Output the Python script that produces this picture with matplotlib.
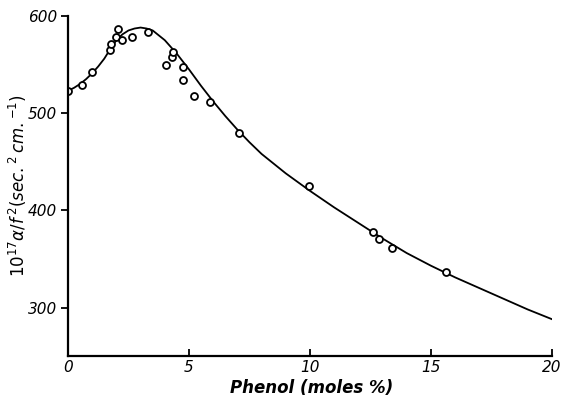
import matplotlib.pyplot as plt

# measured points (phenol mole %, 10^17 alpha/f^2)
phenol = [0.0, 0.59, 1.0, 1.74, 1.79, 2.0, 2.08, 2.24, 2.63, 3.29, 4.06, 4.28, 4.35,
          4.76, 4.76, 5.22, 5.87, 7.08, 9.96, 12.6, 12.86, 13.4, 15.62]
absorption = [523, 529, 542, 565, 571, 578, 587, 575, 578, 583, 549, 558, 563,
              547, 534, 518, 511, 480, 425, 378, 370, 361, 337]

# smooth curve
curve_x = [0, 0.25, 0.5, 0.75, 1, 1.25, 1.5, 1.75, 2, 2.25, 2.5, 2.75, 3, 3.25, 3.5,
           3.75, 4, 4.5, 5, 5.5, 6, 6.5, 7, 7.5, 8, 9, 10, 11, 12, 13, 14, 15, 16, 17,
           18, 19, 20]
curve_y = [523, 526, 530, 535, 541, 548, 556, 566, 575, 581, 585, 587, 588, 587, 585,
           580, 575, 561, 545, 528, 512, 497, 483, 470, 458, 438, 420, 403, 387, 371,
           356, 343, 331, 320, 309, 298, 288]

plt.rcParams['mathtext.fontset'] = 'dejavusans'

fig = plt.figure(figsize=(5.62, 3.97), dpi=100)
ax = fig.add_axes([0.121, 0.103, 0.861, 0.857])

ax.plot(curve_x, curve_y, color='black', linewidth=1.3)
ax.plot(phenol, absorption, 'o', markerfacecolor='white', markeredgecolor='black',
        markersize=5, markeredgewidth=1.3)

ax.set_xlim(0, 20)
ax.set_ylim(250, 600)
ax.set_xticks([0, 5, 10, 15, 20])
ax.set_yticks([300, 400, 500, 600])

ax.spines['top'].set_visible(False)
ax.spines['right'].set_visible(False)
ax.spines['left'].set_linewidth(1.6)
ax.spines['bottom'].set_linewidth(1.6)
ax.tick_params(axis='x', direction='in', length=5, width=1.3, labelsize=11, pad=3)
ax.tick_params(axis='y', direction='out', length=5, width=1.3, labelsize=11, pad=3)
for lab in ax.get_xticklabels() + ax.get_yticklabels():
    lab.set_fontstyle('italic')

ax.set_xlabel('Phenol (moles %)', fontsize=12, fontstyle='italic', fontweight='bold')
ax.xaxis.set_label_coords(0.504, -0.066)
ax.set_ylabel(r'$10^{17}\alpha/f^{\,2}(sec.^{2}\,cm.^{-1})$', fontsize=12)
ax.yaxis.set_label_coords(-0.08, 0.5)

fig.savefig('out.png', dpi=100)
